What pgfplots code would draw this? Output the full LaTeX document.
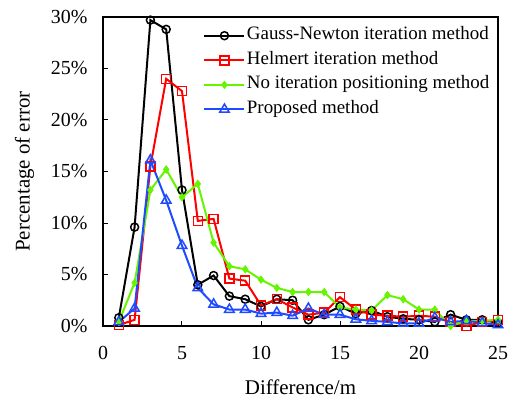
\documentclass[border=0pt]{standalone}
\usepackage{pgfplots}
\pgfplotsset{compat=1.18}
\usepackage{fontspec}
\setmainfont{Liberation Serif}
\definecolor{cblack}{RGB}{0,0,0}
\definecolor{cred}{RGB}{255,0,0}
\definecolor{cgreen}{RGB}{102,245,0}
\definecolor{cblue}{RGB}{30,75,255}
\begin{document}
\begin{tikzpicture}
\begin{axis}[
  name=ax, at={(0,0)}, anchor=south west,
  scale only axis, width=395bp, height=309bp,
  xmin=0, xmax=25, ymin=0, ymax=30,
  xtick={0,5,...,25}, ytick={0,5,...,30},
  yticklabel={\pgfmathprintnumber{\tick}\%},
  /pgf/number format/assume math mode=true,
  tick align=inside, xtick pos=lower, ytick pos=left,
  major tick length=5bp,
  axis line style={line width=1.2bp},
  tick style={line width=1bp, black},
  ticklabel style={font=\fontsize{20}{24}\selectfont},
  xticklabel style={yshift=-17bp},
  yticklabel style={xshift=-12bp},
  xlabel={Difference/m}, ylabel={Percentage of error},
  label style={font=\fontsize{21}{25}\selectfont},
  xlabel style={yshift=-13bp},
  ylabel style={yshift=10bp},
  legend style={draw=none, fill=none, at={(1,1)}, anchor=north east,
    xshift=-4bp, yshift=-7bp,
    font=\fontsize{19}{22}\selectfont, row sep=5.6bp,
    nodes={inner sep=1.5bp, text height=12bp, text depth=4bp}},
  legend cell align=left,
  legend image code/.code={\draw[mark repeat=2,mark phase=2] plot coordinates {(0bp,0bp) (20bp,0bp) (40bp,0bp)};},
  every axis plot/.append style={line width=2bp},
]
\addplot[cblack, mark=o, mark size=4bp, mark options={line width=1.5bp}] coordinates {
(1,0.8) (2,9.6) (3,29.7) (4,28.8) (5,13.2) (6,4.0) (7,4.9) (8,2.9) (9,2.6) (10,1.9)
(11,2.6) (12,2.5) (13,0.6) (14,1.1) (15,1.9) (16,1.2) (17,1.5) (18,0.9) (19,0.7) (20,0.6)
(21,0.4) (22,1.1) (23,0.6) (24,0.6) (25,0.3)};
\addlegendentry{Gauss-Newton iteration method}
\addplot[cred, mark=square, mark size=4.5bp, mark options={line width=1.5bp}] coordinates {
(1,0.1) (2,0.6) (3,15.5) (4,24.0) (5,22.8) (6,10.2) (7,10.4) (8,4.6) (9,4.4) (10,2.0)
(11,2.6) (12,1.8) (13,1.1) (14,1.3) (15,2.8) (16,1.6) (17,1.1) (18,1.0) (19,0.9) (20,1.0)
(21,0.9) (22,0.4) (23,0.0) (24,0.4) (25,0.6)};
\addlegendentry{Helmert iteration method}
\addplot[cgreen, mark=diamond*, mark size=3.5bp, mark options={line width=1bp}] coordinates {
(1,0.4) (2,4.2) (3,13.2) (4,15.2) (5,12.5) (6,13.8) (7,8.1) (8,5.8) (9,5.5) (10,4.5)
(11,3.7) (12,3.3) (13,3.3) (14,3.3) (15,1.8) (16,1.6) (17,1.5) (18,3.0) (19,2.6) (20,1.6)
(21,1.6) (22,0.0) (23,0.5) (24,0.5) (25,0.6)};
\addlegendentry{No iteration positioning method}
\addplot[cblue, mark=triangle, mark size=5.5bp, mark options={line width=1.5bp}] coordinates {
(1,0.4) (2,1.7) (3,16.1) (4,12.2) (5,7.8) (6,3.7) (7,2.1) (8,1.6) (9,1.6) (10,1.2)
(11,1.3) (12,1.0) (13,1.7) (14,1.1) (15,1.1) (16,0.65) (17,0.5) (18,0.4) (19,0.25) (20,0.25)
(21,0.8) (22,0.4) (23,0.5) (24,0.3) (25,0.1)};
\addlegendentry{Proposed method}
\end{axis}
\pgfresetboundingbox
\path[use as bounding box] (-103bp,-74bp) rectangle (413bp,326bp);
\end{tikzpicture}
\end{document}
